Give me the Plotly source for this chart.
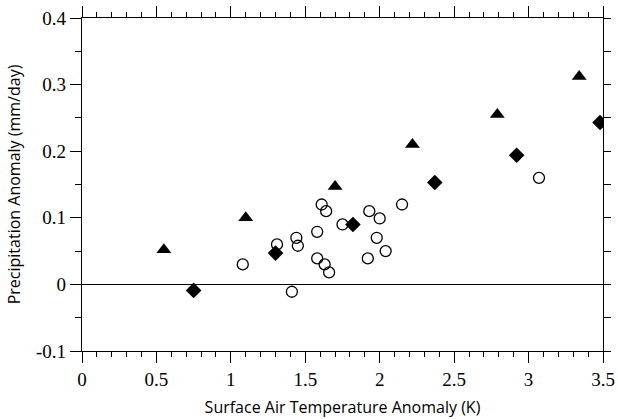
import plotly.graph_objects as go

# open circles
circle_x = [1.08, 1.31, 1.44, 1.45, 1.41, 1.58, 1.61, 1.64, 1.75, 1.58, 1.63, 1.66,
            1.93, 2.00, 1.98, 1.92, 2.04, 2.15, 3.07]
circle_y = [0.030, 0.060, 0.070, 0.058, -0.011, 0.079, 0.120, 0.110, 0.090, 0.039, 0.030, 0.018,
            0.110, 0.099, 0.070, 0.039, 0.050, 0.120, 0.160]

# filled triangles
triangle_x = [0.55, 1.10, 1.70, 2.22, 2.79, 3.34]
triangle_y = [0.052, 0.100, 0.147, 0.210, 0.255, 0.312]

# filled diamonds
diamond_x = [0.75, 1.30, 1.82, 2.37, 2.92, 3.48]
diamond_y = [-0.009, 0.047, 0.090, 0.153, 0.194, 0.243]

x_ticks = [0, 0.5, 1, 1.5, 2, 2.5, 3, 3.5]
x_labels = ["0", "0.5", "1", "1.5", "2", "2.5", "3", "3.5"]
y_ticks = [-0.1, 0, 0.1, 0.2, 0.3, 0.4]
y_labels = ["-0.1", "0", "0.1", "0.2", "0.3", "0.4"]

TICK_FONT = dict(family="Liberation Serif", size=19, color="black")
TITLE_FONT = dict(family="Open Sans", size=16, color="black")

fig = go.Figure()
fig.add_trace(go.Scatter(
    x=circle_x, y=circle_y, mode="markers",
    marker=dict(symbol="circle-open", size=11, color="black", line=dict(width=1.3)),
    showlegend=False,
))
fig.add_trace(go.Scatter(
    x=triangle_x, y=triangle_y, mode="markers",
    marker=dict(symbol="triangle-up", size=13, color="black"),
    showlegend=False,
))
fig.add_trace(go.Scatter(
    x=diamond_x, y=diamond_y, mode="markers",
    marker=dict(symbol="diamond", size=12, color="black"),
    showlegend=False,
))
# dummy trace so the top/right frame axes get drawn
fig.add_trace(go.Scatter(x=[None], y=[None], xaxis="x2", yaxis="y2",
                         showlegend=False, hoverinfo="skip"))

axis_common = dict(showgrid=False, showline=True, linecolor="black", linewidth=1.3,
                   ticks="outside", tickcolor="black", tickwidth=1.2, automargin=False)

fig.update_layout(
    width=618,
    height=419,
    plot_bgcolor="white",
    paper_bgcolor="white",
    margin=dict(l=82, r=15, t=18, b=68),
    xaxis=dict(
        **axis_common,
        range=[0, 3.5], tickvals=x_ticks, ticktext=x_labels, ticklen=11,
        minor=dict(dtick=0.1, ticklen=5, ticks="outside", tickcolor="black", tickwidth=1.2),
        zeroline=False, tickfont=TICK_FONT,
        title=dict(text="Surface Air Temperature Anomaly (K)", font=TITLE_FONT, standoff=12),
    ),
    yaxis=dict(
        **axis_common,
        range=[-0.1, 0.4], tickvals=y_ticks, ticktext=y_labels, ticklen=11,
        minor=dict(dtick=0.05, ticklen=6, ticks="outside", tickcolor="black", tickwidth=1.2),
        zeroline=True, zerolinecolor="black", zerolinewidth=1.3, tickfont=TICK_FONT,
        title=dict(text="Precipitation Anomaly (mm/day)", font=TITLE_FONT, standoff=11),
    ),
    xaxis2=dict(
        **axis_common,
        overlaying="x", side="top", range=[0, 3.5], dtick=0.5, tick0=0, ticklen=11,
        minor=dict(dtick=0.1, ticklen=5, ticks="outside", tickcolor="black", tickwidth=1.2),
        showticklabels=False, zeroline=False,
    ),
    yaxis2=dict(
        **axis_common,
        overlaying="y", side="right", range=[-0.1, 0.4], dtick=0.05, tick0=0, ticklen=7,
        showticklabels=False, zeroline=False,
    ),
)

# the browser's default body margin would shift the whole figure by 8px
fig.write_html(
    "out.html",
    config={"displayModeBar": False},
    post_script="document.body.style.margin = '0';",
)
